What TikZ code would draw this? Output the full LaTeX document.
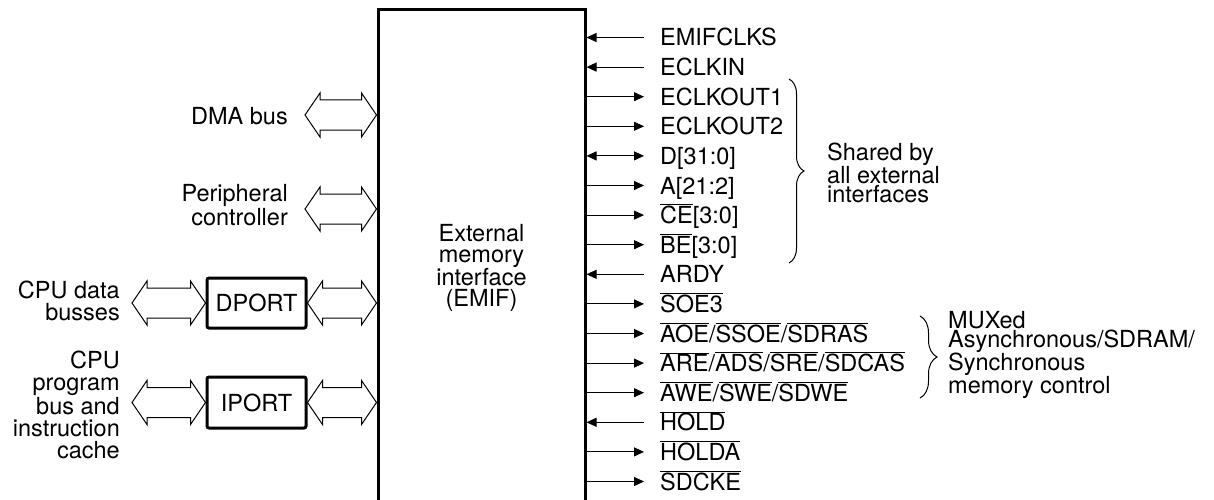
\documentclass[tikz,border=0pt]{standalone}
\usepackage{fontspec}
\setmainfont{TeX Gyre Heros}
\usetikzlibrary{calc,arrows.meta,decorations.pathreplacing}
\newcommand\ovl[1]{$\overline{\mbox{#1}}$}
\newcommand\dblarrow[2]{%
  \draw[busline] (#1) -- ($(#1)+(15,-22)$) -- ($(#1)+(15,-15)$) -- ($(#2)+(-15,-15)$)
   -- ($(#2)+(-15,-22)$) -- (#2) -- ($(#2)+(-15,22)$) -- ($(#2)+(-15,15)$)
   -- ($(#1)+(15,15)$) -- ($(#1)+(15,22)$) -- cycle;}
\newcommand\sigrow[3]{%
  \coordinate (c#1) at (644,{37.5+29.6*#1});
  \node[anchor=base west] (s#1) at (660,{46+29.6*#1}) {#3};
  \draw[#2] (emif.east |- c#1) -- (c#1);}
\begin{document}
\begin{tikzpicture}[x=1pt,y=-1pt,
  every node/.style={font=\fontsize{23.5}{22}\selectfont, inner sep=0pt},
  busline/.style={line width=1pt, line join=miter},
  thickbox/.style={draw, line width=3pt},
  sig/.style={line width=1pt},
  sigout/.style={sig,-{Triangle[length=10pt,width=9pt]}},
  sigin/.style={sig,{Triangle[length=10pt,width=9pt]}-},
  sigbi/.style={sig,{Triangle[length=10pt,width=9pt]}-{Triangle[length=10pt,width=9pt]}},
  bracestyle/.style={decorate, line width=1pt}
]
\useasboundingbox (0,0) rectangle (1214,500);

% main block
\node[thickbox, minimum width=207pt, minimum height=516pt, align=center,
      font=\fontsize{23.5}{21}\selectfont] (emif) at (481.5,268)
      {External\\memory\\interface\\(EMIF)};

% signals
\sigrow{0}{sigin}{EMIFCLKS}
\sigrow{1}{sigin}{ECLKIN}
\sigrow{2}{sigout}{ECLKOUT1}
\sigrow{3}{sigout}{ECLKOUT2}
\sigrow{4}{sigbi}{D[31:0]}
\sigrow{5}{sigout}{A[21:2]}
\sigrow{6}{sigout}{\ovl{CE}[3:0]}
\sigrow{7}{sigout}{\ovl{BE}[3:0]}
\sigrow{8}{sigin}{ARDY}
\sigrow{9}{sigout}{\ovl{SOE3}}
\sigrow{10}{sigout}{\ovl{AOE}/\ovl{SSOE}/\ovl{SDRAS}}
\sigrow{11}{sigout}{\ovl{ARE}/\ovl{ADS}/\ovl{SRE}/\ovl{SDCAS}}
\sigrow{12}{sigout}{\ovl{AWE}/\ovl{SWE}/\ovl{SDWE}}
\sigrow{13}{sigin}{\ovl{HOLD}}
\sigrow{14}{sigout}{\ovl{HOLDA}}
\sigrow{15}{sigout}{\ovl{SDCKE}}

% braces
\draw[bracestyle, decoration={brace, amplitude=15pt}] (789,79) -- (789,263);
\node[anchor=west, align=left, font=\fontsize{23.5}{19.5}\selectfont] (shared) at (827,173)
  {Shared by\\all external\\interfaces};
\draw[bracestyle, decoration={brace, amplitude=17pt}] (920,316) -- (920,398);
\node[anchor=west, align=left, font=\fontsize{23.5}{19}\selectfont] (mux) at (948,355)
  {MUXed\\Asynchronous/SDRAM/\\Synchronous\\memory control};

% left side
\node[anchor=east] (dma) at (288,116) {DMA bus};
\node[anchor=east, align=right] (per) at (288,205) {Peripheral\\controller};
\node[anchor=east, align=right] (cpud) at (120,301) {CPU data\\busses};
\node[anchor=east, align=right] (cpup) at (120,405) {CPU\\program\\bus and\\instruction\\cache};

\node[thickbox, rounded corners=2pt, minimum width=99pt, minimum height=50pt] (dport) at (256.5,303) {DPORT};
\node[thickbox, rounded corners=2pt, minimum width=99pt, minimum height=51pt] (iport) at (256.5,402.5) {IPORT};

\coordinate (dmaL) at (305,115);
\coordinate (dmaR) at (emif.west |- dmaL);
\dblarrow{dmaL}{dmaR}
\coordinate (perL) at (305,209);
\coordinate (perR) at (emif.west |- perL);
\dblarrow{perL}{perR}
\coordinate (cpudL) at (132,303);
\coordinate (dportW) at (dport.west);
\dblarrow{cpudL}{dportW}
\coordinate (dportE) at (dport.east);
\coordinate (dportR) at (emif.west |- dportE);
\dblarrow{dportE}{dportR}
\coordinate (cpupL) at (132,402.5);
\coordinate (iportW) at (iport.west);
\dblarrow{cpupL}{iportW}
\coordinate (iportE) at (iport.east);
\coordinate (iportR) at (emif.west |- iportE);
\dblarrow{iportE}{iportR}
\end{tikzpicture}
\end{document}
